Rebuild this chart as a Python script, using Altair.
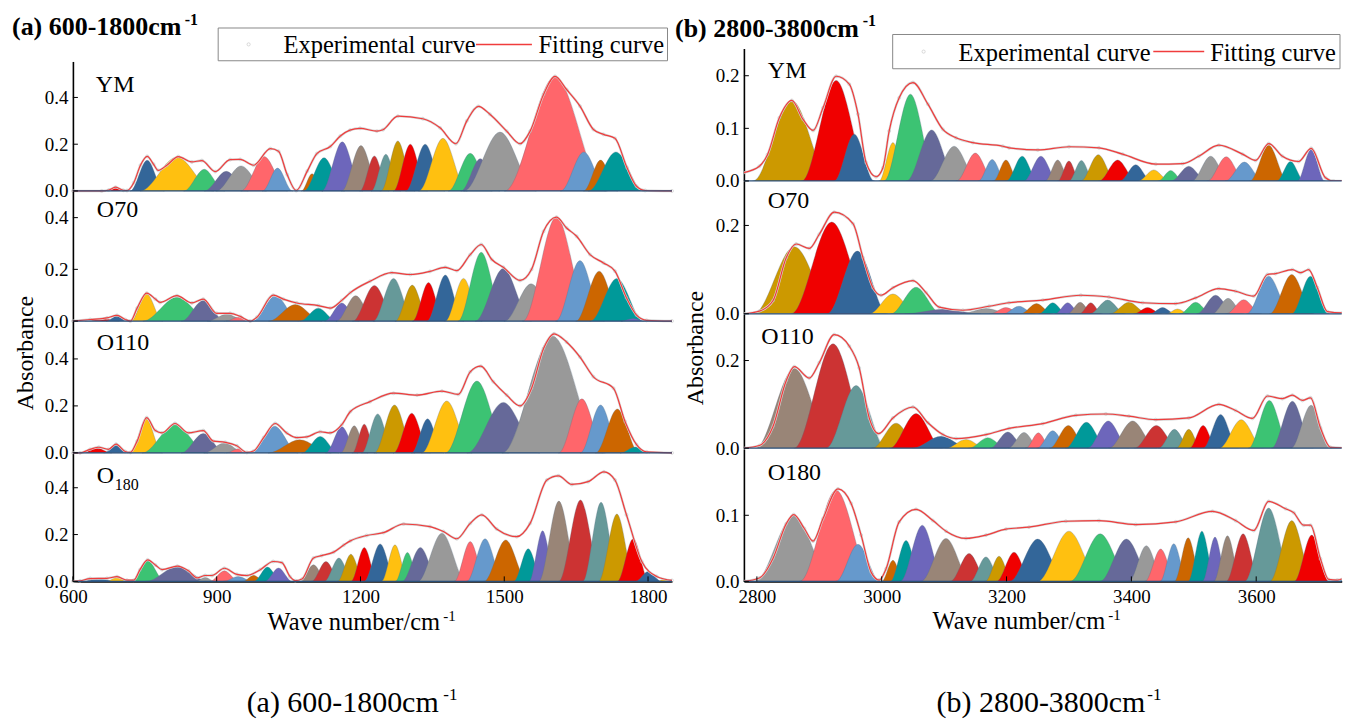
import altair as alt
import pandas as pd

FONT = "Liberation Serif"
CYCLE = ["#F00000", "#336699", "#FFC010", "#3CC373", "#666999", "#999999", "#FF666B", "#6699CC",
         "#CC6600", "#009999", "#6D66BB", "#998577", "#CC3333", "#669999", "#CC9900"]
RED = "#F03C3C"

# ---------- panel (a) 600-1800
A1_c = [689,755,817,874,920,951,999,1027,1099,1124,1162,1201,1229,1253,1278,1304,1335,1372,1429,1450,1491,1606,1666,1701,1733]
A1_h = [.014,.131,.145,.093,.084,.107,.147,.098,.074,.142,.21,.194,.15,.157,.214,.2,.2,.225,.161,.138,.252,.489,.167,.132,.167]
A1_w = [17,35,76,42,45,52,48,31,22,42,42,40,30,30,35,35,40,50,45,40,75,105,48,35,57]
A1_ex = [600,660,675,689,705,713,727,741,755,768,778,796,820,848,869,897,928,949,977,1012,1029,1047,1066,1089,1109,1137,1158,1178,1199,1234,1247,1278,1330,1366,1399,1422,1446,1470,1505,1533,1554,1582,1606,1630,1658,1686,1707,1731,1756,1776,1794,1850]
A1_ey = [0,0,.004,.016,.003,.002,.035,.11,.148,.115,.088,.11,.147,.124,.13,.083,.134,.135,.11,.181,.17,.07,.002,.085,.16,.19,.235,.26,.268,.256,.262,.32,.309,.27,.202,.3,.362,.328,.256,.202,.256,.413,.49,.434,.363,.263,.242,.225,.1,.02,.002,0]

A2_c = [661,692,754,817,872,921,945,1023,1064,1112,1161,1190,1229,1269,1308,1342,1377,1415,1452,1498,1556,1609,1658,1698,1735,1769]
A2_h = [.01,.02,.105,.092,.08,.026,.015,.098,.064,.05,.07,.098,.138,.165,.139,.149,.178,.165,.266,.203,.144,.403,.234,.193,.165,.01]
A2_w = [35,22,33,70,45,40,25,48,55,38,35,40,45,42,35,33,38,38,48,58,55,70,50,48,55,25]
A2_ex = [600,636,671,692,709,720,734,754,772,782,817,848,872,900,928,949,970,984,1018,1039,1067,1112,1137,1161,1179,1220,1265,1304,1345,1377,1401,1429,1452,1474,1498,1533,1557,1582,1609,1630,1651,1679,1707,1731,1755,1776,1797,1850]
A2_ey = [0,.006,.012,.022,.006,0,.05,.108,.085,.072,.098,.07,.085,.03,.03,.018,0,.015,.1,.085,.07,.06,.05,.08,.11,.154,.187,.18,.192,.208,.195,.257,.296,.238,.208,.157,.2,.347,.402,.36,.328,.257,.225,.193,.09,.023,.003,0]

A3_c = [650,690,753,813,872,916,945,1021,1073,1116,1161,1187,1208,1236,1271,1307,1340,1380,1443,1498,1601,1662,1701,1736,1773]
A3_h = [.021,.035,.144,.12,.082,.042,.018,.113,.056,.07,.111,.115,.122,.166,.204,.169,.145,.221,.306,.215,.497,.23,.204,.187,.025]
A3_w = [30,25,33,68,45,42,25,48,65,38,33,28,25,33,42,38,33,52,65,75,105,48,42,45,30]
A3_ex = [600,615,636,654,674,690,709,720,734,754,772,786,813,841,872,893,918,942,963,977,998,1022,1046,1067,1088,1116,1137,1161,1179,1220,1269,1318,1370,1404,1429,1451,1477,1505,1533,1557,1582,1604,1630,1658,1686,1728,1752,1776,1797,1850]
A3_ey = [0,0,.015,.024,.015,.037,.006,.002,.05,.15,.095,.085,.125,.085,.095,.05,.045,.03,.002,.008,.065,.125,.085,.065,.068,.09,.085,.12,.176,.218,.254,.246,.263,.249,.345,.369,.303,.246,.2,.275,.444,.507,.472,.408,.324,.275,.134,.035,.004,0]

A4_c = [654,692,756,818,876,916,945,977,1006,1029,1102,1128,1155,1180,1208,1241,1272,1298,1325,1370,1429,1460,1503,1550,1580,1614,1659,1702,1735,1769,1801,1835]
A4_h = [.011,.017,.088,.064,.017,.045,.021,.026,.061,.057,.071,.085,.1,.116,.145,.16,.156,.123,.145,.206,.17,.182,.177,.139,.216,.343,.348,.338,.288,.182,.043,.011]
A4_w = [35,22,35,65,20,30,30,22,28,28,28,30,30,28,28,33,28,25,38,50,33,38,45,30,28,42,45,38,38,33,27,15]
A4_ex = [600,615,636,671,692,713,727,740,756,772,786,818,841,859,876,890,916,942,963,991,1018,1036,1053,1064,1078,1102,1119,1144,1165,1179,1213,1248,1290,1345,1373,1401,1429,1453,1484,1526,1554,1589,1613,1641,1675,1708,1731,1755,1787,1818,1850]
A4_ey = [0,.002,.012,.013,.02,.005,.005,.05,.092,.07,.05,.065,.045,.015,.025,.025,.056,.03,.025,.05,.085,.08,.02,.003,.01,.1,.11,.125,.155,.173,.196,.208,.245,.234,.213,.182,.248,.284,.224,.191,.248,.433,.451,.414,.426,.468,.433,.284,.085,.021,.004]

# ---------- panel (b) 2800-3800
B1_c = [2856,2927,2956,3018,3046,3080,3116,3150,3177,3199,3225,3255,3282,3300,3320,3347,3378,3407,3436,3463,3492,3527,3552,3581,3620,3655,3688]
B1_h = [.153,.191,.089,.073,.165,.097,.066,.053,.041,.04,.047,.047,.04,.038,.039,.05,.04,.031,.021,.02,.028,.047,.046,.036,.068,.037,.06]
B1_w = [62,55,32,22,42,40,38,30,22,20,25,27,20,18,20,28,30,25,25,20,28,30,30,30,30,22,22]
B1_ex = [2779,2804,2817,2836,2856,2874,2890,2906,2927,2948,2962,2975,2991,3002,3012,3028,3050,3074,3098,3119,3146,3194,3204,3250,3300,3348,3386,3439,3482,3508,3540,3578,3599,3620,3642,3668,3688,3711,3724,3750]
B1_ey = [.016,.028,.05,.12,.153,.117,.096,.139,.199,.184,.127,.035,.008,.025,.095,.158,.187,.146,.098,.082,.073,.066,.063,.059,.065,.063,.051,.032,.033,.047,.068,.051,.039,.071,.047,.037,.062,.006,0,0]

B2_c = [2860,2920,2961,3018,3055,3098,3167,3199,3220,3248,3274,3298,3318,3335,3362,3396,3426,3450,3474,3503,3535,3555,3580,3620,3657,3687]
B2_h = [.152,.208,.142,.045,.06,.01,.012,.014,.017,.023,.025,.025,.026,.025,.031,.026,.014,.014,.011,.026,.042,.035,.032,.085,.089,.085]
B2_w = [65,65,48,38,40,60,40,25,25,25,22,20,20,18,28,30,22,20,18,25,30,25,28,35,35,30]
B2_ex = [2779,2804,2826,2847,2863,2884,2900,2924,2954,2970,2986,2999,3018,3050,3071,3092,3130,3172,3204,3258,3319,3364,3418,3471,3503,3540,3567,3596,3618,3631,3658,3671,3684,3698,3714,3738,3750]
B2_ey = [0,.006,.03,.127,.158,.148,.18,.23,.204,.127,.059,.042,.059,.075,.048,.015,.008,.017,.025,.031,.042,.038,.025,.023,.036,.057,.051,.04,.089,.091,.1,.093,.1,.059,.005,.002,.002]

B3_c = [2860,2922,2959,3023,3055,3095,3135,3170,3202,3228,3251,3274,3299,3328,3363,3402,3440,3469,3492,3515,3543,3576,3621,3658,3688]
B3_h = [.182,.238,.143,.057,.079,.027,.02,.024,.037,.036,.035,.04,.052,.059,.062,.062,.052,.043,.043,.052,.077,.065,.109,.107,.098]
B3_w = [62,62,48,38,42,45,32,30,28,25,20,25,30,33,33,38,35,25,20,22,28,35,33,33,32]
B3_ex = [2779,2804,2826,2847,2860,2884,2900,2924,2948,2964,2980,2995,3018,3050,3074,3098,3119,3167,3204,3258,3311,3359,3396,3439,3492,3540,3567,3594,3618,3642,3658,3674,3687,3703,3719,3750]
B3_ey = [0,.006,.05,.154,.186,.16,.195,.259,.233,.183,.069,.033,.069,.094,.058,.031,.022,.031,.045,.056,.075,.078,.073,.065,.069,.1,.086,.068,.119,.113,.121,.109,.115,.046,.002,0]

B4_c = [2859,2927,2962,3018,3039,3065,3103,3140,3167,3188,3212,3250,3300,3350,3392,3424,3447,3468,3491,3513,3534,3554,3579,3620,3657,3689,3748]
B4_h = [.099,.138,.056,.032,.062,.085,.065,.042,.037,.038,.044,.064,.076,.072,.064,.054,.049,.057,.066,.076,.067,.069,.072,.111,.092,.07,.008]
B4_w = [62,58,35,18,25,35,40,30,25,22,28,45,50,48,42,28,25,22,22,22,20,22,27,38,35,28,20]
B4_ex = [2779,2804,2826,2847,2859,2876,2890,2906,2930,2951,2967,2983,2996,3007,3028,3055,3082,3103,3135,3167,3199,3236,3295,3348,3407,3471,3530,3567,3596,3620,3647,3660,3676,3687,3703,3716,3730,3748]
B4_ey = [0,.005,.035,.087,.101,.08,.061,.095,.14,.118,.07,.014,.002,.019,.09,.109,.092,.076,.065,.07,.079,.082,.091,.092,.086,.09,.106,.092,.077,.121,.11,.104,.085,.085,.034,.003,.002,.009]

A_TICKS = [600, 900, 1200, 1500, 1800]
B_TICKS = [2800, 3000, 3200, 3400, 3600]
SCALE_A = [600, 1850]
SCALE_B = [2779.2, 3737]


def peaks_frame(cs, hs, ws, start):
    rows = []
    for i, (c, h, w) in enumerate(zip(cs, hs, ws)):
        col = CYCLE[(start + i) % len(CYCLE)]
        for x, y in [(c - w - 1, 0), (c - w, 0), (c, h), (c + w, 0), (c + w + 1, 0)]:
            rows.append({"peak": f"{i:03d}", "col": col, "x": x, "y": y})
    return pd.DataFrame(rows)


def panel(cs, hs, ws, start, ex, ey, xdom, ydom, yticks, w, h, rng, clip, xticks=None):
    has_axis = xticks is not None
    x_axis = alt.Axis(values=xticks, ticks=False, grid=False, title=None, labelFont=FONT, labelFontSize=19,
                      labelColor="black", domainColor="black", domainWidth=1.6, labelPadding=6,
                      labelOverlap=False, labelFlush=False, format="d") if has_axis else None
    y_axis = alt.Axis(values=yticks, ticks=False, grid=False, title=None, labelFont=FONT, labelFontSize=19,
                      labelColor="black", domainColor="black", domainWidth=1.6, labelPadding=5,
                      labelOverlap=False, labelFlush=False, format=".1f")
    X = alt.X("x:Q", scale=alt.Scale(domain=xdom, nice=False, zero=False), axis=x_axis, stack=None)
    Y = alt.Y("y:Q", scale=alt.Scale(domain=ydom, nice=False, zero=False, range=rng), axis=y_axis, stack=None)
    area = alt.Chart(peaks_frame(cs, hs, ws, start)).mark_area(
        interpolate="monotone", clip=clip, orient="vertical", stroke="#5c6f85", strokeWidth=0.5, strokeOpacity=0.6
    ).encode(x=X, y=Y, detail="peak:N", color=alt.Color("col:N", scale=None))
    env = pd.DataFrame({"x": ex, "y": ey})
    zero = alt.Chart(pd.DataFrame({"y": [0]})).mark_rule(color="#2a4f78", strokeWidth=1.3).encode(
        x=alt.value(0), x2=alt.value(w), y=alt.Y("y:Q"))
    halo = alt.Chart(env).mark_line(interpolate="monotone", color="#d6d6d6", strokeWidth=2.4, clip=clip).encode(x="x:Q", y="y:Q")
    pts = alt.Chart(env).mark_point(size=9, filled=False, color="#bdbdbd", strokeWidth=0.7, clip=clip).encode(x="x:Q", y="y:Q")
    line = alt.Chart(env).mark_line(interpolate="monotone", color=RED, strokeWidth=1.2, clip=clip).encode(x="x:Q", y="y:Q")
    yt = alt.Chart(pd.DataFrame({"y": yticks})).mark_rule(color="black", strokeWidth=1).encode(
        x=alt.value(0), x2=alt.value(5), y="y:Q")
    layers = [area, halo, pts, line, zero, yt]
    if has_axis:
        xt = alt.Chart(pd.DataFrame({"x": xticks})).mark_rule(color="black", strokeWidth=1).encode(
            x="x:Q", y=alt.value(h), y2=alt.value(h - 5))
        layers.append(xt)
    return alt.layer(*layers).properties(width=w, height=h)


one = pd.DataFrame({"a": [0]})


def T(txt, px, py, size, bold=False, angle=None, align="left"):
    kw = {"angle": angle} if angle is not None else {}
    return alt.Chart(one).mark_text(text=txt, font=FONT, fontSize=size, align=align, baseline="alphabetic",
                                    fontWeight="bold" if bold else "normal", color="black", **kw).encode(
        x=alt.value(px - 8), y=alt.value(py - 8))


def legend(x0, x1, y0, y1, cx, t1, l0, l1, t2, base):
    cy = (y0 + y1) / 2
    return [
        alt.Chart(one).mark_rect(fillOpacity=0, stroke="#888888", strokeWidth=1).encode(
            x=alt.value(x0 - 8), x2=alt.value(x1 - 8), y=alt.value(y0 - 8), y2=alt.value(y1 - 8)),
        alt.Chart(one).mark_point(size=10, filled=False, color="#bdbdbd", strokeWidth=0.8).encode(
            x=alt.value(cx - 8), y=alt.value(cy - 8)),
        alt.Chart(one).mark_rule(color=RED, strokeWidth=1.5).encode(
            x=alt.value(l0 - 8), x2=alt.value(l1 - 8), y=alt.value(cy - 8)),
        T("Experimental curve", t1, base, 24.5),
        T("Fitting curve", t2, base, 24.5),
    ]


notes = [
    T("(a) 600-1800cm", 12, 35, 26, bold=True), T("-1", 185, 24, 16, bold=True),
    T("(b) 2800-3800cm", 676, 36.5, 26, bold=True), T("-1", 864, 25, 16, bold=True),
    T("YM", 96, 92, 24), T("O70", 97, 217, 24), T("O110", 97, 350, 24), T("O", 97, 483, 24), T("180", 115, 490, 16),
    T("YM", 769, 78, 24), T("O70", 769, 207.5, 24), T("O110", 762.5, 344, 24), T("O180", 769, 480.5, 24),
    T("Absorbance", 33, 353, 24, angle=270, align="center"),
    T("Absorbance", 704, 348, 24, angle=270, align="center"),
    T("Wave number/cm", 268, 630.5, 24.5), T("-1", 444, 621, 15),
    T("Wave number/cm", 934, 629.5, 24.5), T("-1", 1110, 620, 15),
    T("(a) 600-1800cm", 247, 713, 30), T("-1", 444, 701, 17),
    T("(b) 2800-3800cm", 938, 713, 30), T("-1", 1149, 701, 17),
] + legend(218.5, 668.5, 27.5, 60.3, 249, 284, 476.7, 532.7, 539.3, 53) \
  + legend(894, 1342, 34, 68.3, 925, 960, 1155, 1206, 1212, 60.5)


def spacer(w, h):
    return alt.Chart(one).mark_text(text="", opacity=0).encode(x=alt.value(4), y=alt.value(8)).properties(width=w, height=h)


WA, WB, GL, GM = 600, 598.7, 64.3, 72
R0, R1, R2, R3, R4 = 39.3, 132.7, 132.7, 134.3, 132.7
gutter = alt.layer(*notes).properties(width=GL, height=10)
cells = [
    gutter, spacer(WA, R0), spacer(GM, 10), spacer(WB, R0),
    spacer(GL, 10), panel(A1_c, A1_h, A1_w, 0, A1_ex, A1_ey, SCALE_A, [0, .554], [0, .2, .4], WA, R1, [142.7, 13], False),
    spacer(GM, 10), panel(B1_c, B1_h, B1_w, 14, B1_ex, B1_ey, SCALE_B, [0, .2518], [0, .1, .2], WB, R1, [R1, 0], True),
    spacer(GL, 10), panel(A2_c, A2_h, A2_w, 0, A2_ex, A2_ey, SCALE_A, [0, .502], [0, .2, .4], WA, R2, [140, 10], False),
    spacer(GM, 10), panel(B2_c, B2_h, B2_w, 14, B2_ex, B2_ey, SCALE_B, [0, .3], [0, .2], WB, R2, [R2, 0], True),
    spacer(GL, 10), panel(A3_c, A3_h, A3_w, 0, A3_ex, A3_ey, SCALE_A, [0, .56], [0, .2, .4], WA, R3, [139, 7.3], False),
    spacer(GM, 10), panel(B3_c, B3_h, B3_w, 11, B3_ex, B3_ey, SCALE_B, [0, .306], [0, .2], WB, R3, [R3, 0], True),
    spacer(GL, 10), panel(A4_c, A4_h, A4_w, 1, A4_ex, A4_ey, SCALE_A, [0, .546], [0, .2, .4], WA, R4, [R4, 4.7], False, xticks=A_TICKS),
    spacer(GM, 10), panel(B4_c, B4_h, B4_w, 5, B4_ex, B4_ey, SCALE_B, [0, .2005], [0, .1], WB, R4, [R4, 0], True, xticks=B_TICKS),
]

chart = alt.concat(*cells, columns=4, spacing=0, bounds="flush", align="none", padding=0, background="white"
                   ).configure_view(strokeWidth=0)

chart.save("out.html", embed_options={"renderer": "svg", "actions": False})
